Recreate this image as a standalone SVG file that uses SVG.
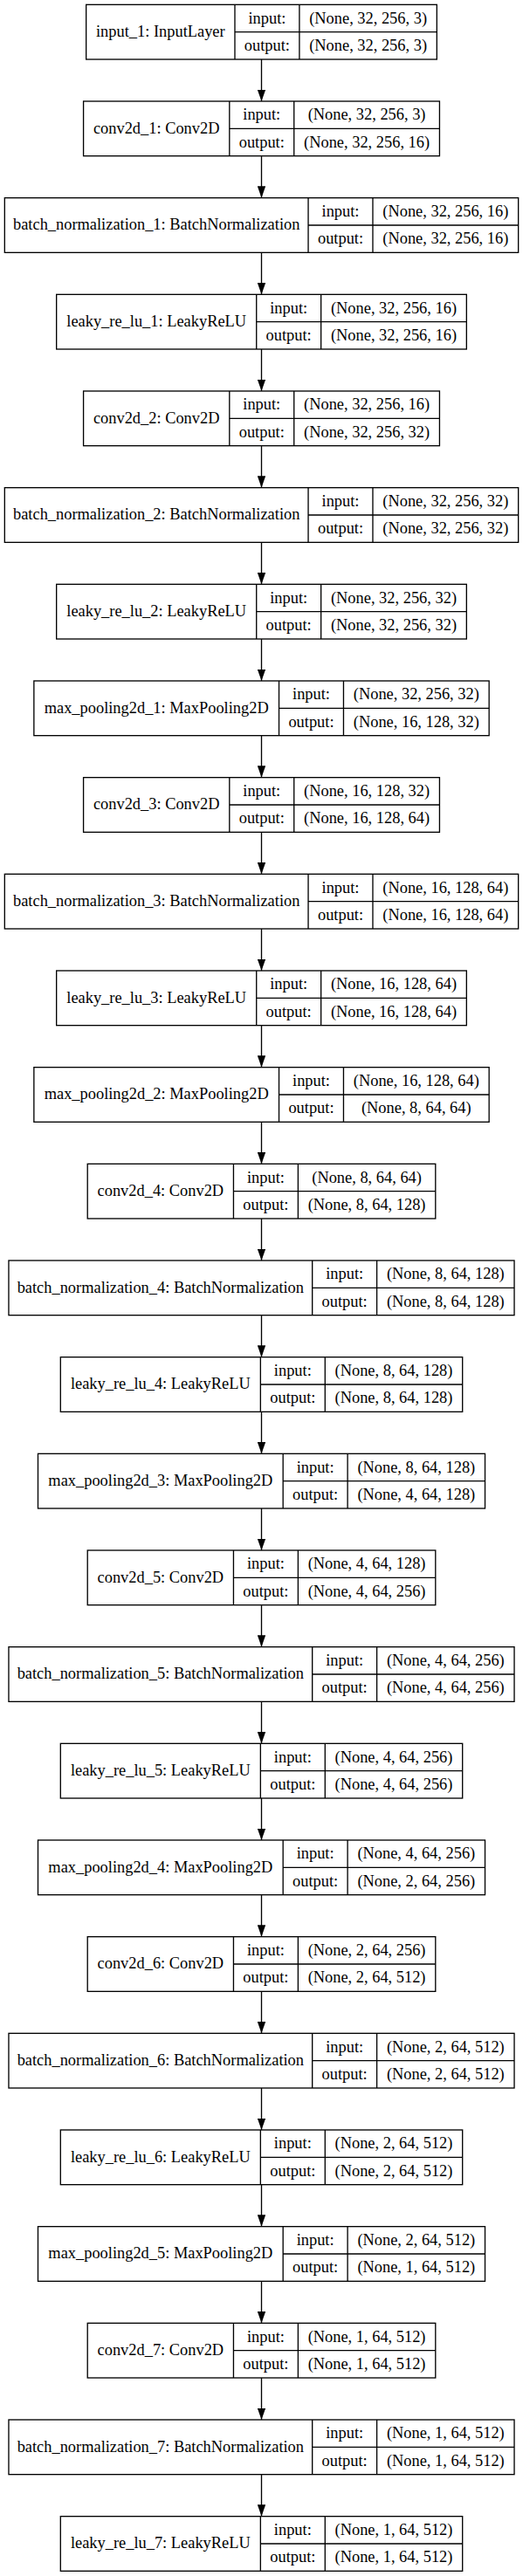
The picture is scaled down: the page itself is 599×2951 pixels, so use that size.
<svg xmlns="http://www.w3.org/2000/svg" width="599" height="2951" viewBox="0 0 599 2951">
<style>
.node rect{fill:#fff;stroke:#000;stroke-width:1.33}
.node path{fill:none;stroke:#000;stroke-width:1.33}
text{font-family:"Liberation Serif","Times New Roman",serif;font-size:18.4px;text-anchor:middle;fill:#000}
#edges line{stroke:#000;stroke-width:1.33;marker-end:url(#ah)}
</style>
<defs>
<marker id="ah" markerUnits="userSpaceOnUse" markerWidth="13.33" markerHeight="9.33" viewBox="0 0 13.33 9.33" refX="13.33" refY="4.67" orient="auto"><path d="M0,0L13.33,4.67L0,9.33Z" fill="#000"/></marker>
</defs>
<rect width="599" height="2951" fill="#fff"/>
<g id="edges">
<line x1="299.5" y1="68" x2="299.5" y2="116"/>
<line x1="299.5" y1="178.67" x2="299.5" y2="226.67"/>
<line x1="299.5" y1="289.33" x2="299.5" y2="337.33"/>
<line x1="299.5" y1="400" x2="299.5" y2="448"/>
<line x1="299.5" y1="510.67" x2="299.5" y2="558.67"/>
<line x1="299.5" y1="621.33" x2="299.5" y2="669.33"/>
<line x1="299.5" y1="732" x2="299.5" y2="780"/>
<line x1="299.5" y1="842.67" x2="299.5" y2="890.67"/>
<line x1="299.5" y1="953.33" x2="299.5" y2="1001.33"/>
<line x1="299.5" y1="1064" x2="299.5" y2="1112"/>
<line x1="299.5" y1="1174.67" x2="299.5" y2="1222.67"/>
<line x1="299.5" y1="1285.33" x2="299.5" y2="1333.33"/>
<line x1="299.5" y1="1396" x2="299.5" y2="1444"/>
<line x1="299.5" y1="1506.67" x2="299.5" y2="1554.67"/>
<line x1="299.5" y1="1617.33" x2="299.5" y2="1665.33"/>
<line x1="299.5" y1="1728" x2="299.5" y2="1776"/>
<line x1="299.5" y1="1838.67" x2="299.5" y2="1886.67"/>
<line x1="299.5" y1="1949.33" x2="299.5" y2="1997.33"/>
<line x1="299.5" y1="2060" x2="299.5" y2="2108"/>
<line x1="299.5" y1="2170.67" x2="299.5" y2="2218.67"/>
<line x1="299.5" y1="2281.33" x2="299.5" y2="2329.33"/>
<line x1="299.5" y1="2392" x2="299.5" y2="2440"/>
<line x1="299.5" y1="2502.67" x2="299.5" y2="2550.67"/>
<line x1="299.5" y1="2613.33" x2="299.5" y2="2661.33"/>
<line x1="299.5" y1="2724" x2="299.5" y2="2772"/>
<line x1="299.5" y1="2834.67" x2="299.5" y2="2882.67"/>
</g>

<g id="input_1" class="node" transform="translate(98.67,5.33)">
<rect width="401.65" height="62.67"/>
<path d="M170.31,0V62.67M244.24,0V62.67M170.31,31.33H401.65"/>
<text x="85.16" y="36.8">input_1: InputLayer</text>
<text x="207.28" y="21.2">input:</text><text x="207.28" y="52.5">output:</text>
<text x="322.95" y="21.2">(None, 32, 256, 3)</text><text x="322.95" y="52.5">(None, 32, 256, 3)</text>
</g>

<g id="conv2d_1" class="node" transform="translate(95.58,116)">
<rect width="407.85" height="62.67"/>
<path d="M167.23,0V62.67M241.16,0V62.67M167.23,31.33H407.85"/>
<text x="83.62" y="36.8">conv2d_1: Conv2D</text>
<text x="204.2" y="21.2">input:</text><text x="204.2" y="52.5">output:</text>
<text x="324.51" y="21.2">(None, 32, 256, 3)</text><text x="324.51" y="52.5">(None, 32, 256, 16)</text>
</g>

<g id="batch_normalization_1" class="node" transform="translate(5.33,226.67)">
<rect width="588.33" height="62.67"/>
<path d="M347.71,0V62.67M421.64,0V62.67M347.71,31.33H588.33"/>
<text x="173.86" y="36.8">batch_normalization_1: BatchNormalization</text>
<text x="384.68" y="21.2">input:</text><text x="384.68" y="52.5">output:</text>
<text x="505" y="21.2">(None, 32, 256, 16)</text><text x="505" y="52.5">(None, 32, 256, 16)</text>
</g>

<g id="leaky_re_lu_1" class="node" transform="translate(64.67,337.33)">
<rect width="469.67" height="62.67"/>
<path d="M229.05,0V62.67M302.98,0V62.67M229.05,31.33H469.67"/>
<text x="114.53" y="36.8">leaky_re_lu_1: LeakyReLU</text>
<text x="266.02" y="21.2">input:</text><text x="266.02" y="52.5">output:</text>
<text x="386.33" y="21.2">(None, 32, 256, 16)</text><text x="386.33" y="52.5">(None, 32, 256, 16)</text>
</g>

<g id="conv2d_2" class="node" transform="translate(95.58,448)">
<rect width="407.85" height="62.67"/>
<path d="M167.23,0V62.67M241.16,0V62.67M167.23,31.33H407.85"/>
<text x="83.62" y="36.8">conv2d_2: Conv2D</text>
<text x="204.2" y="21.2">input:</text><text x="204.2" y="52.5">output:</text>
<text x="324.51" y="21.2">(None, 32, 256, 16)</text><text x="324.51" y="52.5">(None, 32, 256, 32)</text>
</g>

<g id="batch_normalization_2" class="node" transform="translate(5.33,558.67)">
<rect width="588.33" height="62.67"/>
<path d="M347.71,0V62.67M421.64,0V62.67M347.71,31.33H588.33"/>
<text x="173.86" y="36.8">batch_normalization_2: BatchNormalization</text>
<text x="384.68" y="21.2">input:</text><text x="384.68" y="52.5">output:</text>
<text x="505" y="21.2">(None, 32, 256, 32)</text><text x="505" y="52.5">(None, 32, 256, 32)</text>
</g>

<g id="leaky_re_lu_2" class="node" transform="translate(64.67,669.33)">
<rect width="469.67" height="62.67"/>
<path d="M229.05,0V62.67M302.98,0V62.67M229.05,31.33H469.67"/>
<text x="114.53" y="36.8">leaky_re_lu_2: LeakyReLU</text>
<text x="266.02" y="21.2">input:</text><text x="266.02" y="52.5">output:</text>
<text x="386.33" y="21.2">(None, 32, 256, 32)</text><text x="386.33" y="52.5">(None, 32, 256, 32)</text>
</g>

<g id="max_pooling2d_1" class="node" transform="translate(38.86,780)">
<rect width="521.29" height="62.67"/>
<path d="M280.67,0V62.67M354.6,0V62.67M280.67,31.33H521.29"/>
<text x="140.34" y="36.8">max_pooling2d_1: MaxPooling2D</text>
<text x="317.64" y="21.2">input:</text><text x="317.64" y="52.5">output:</text>
<text x="437.95" y="21.2">(None, 32, 256, 32)</text><text x="437.95" y="52.5">(None, 16, 128, 32)</text>
</g>

<g id="conv2d_3" class="node" transform="translate(95.58,890.67)">
<rect width="407.85" height="62.67"/>
<path d="M167.23,0V62.67M241.16,0V62.67M167.23,31.33H407.85"/>
<text x="83.62" y="36.8">conv2d_3: Conv2D</text>
<text x="204.2" y="21.2">input:</text><text x="204.2" y="52.5">output:</text>
<text x="324.51" y="21.2">(None, 16, 128, 32)</text><text x="324.51" y="52.5">(None, 16, 128, 64)</text>
</g>

<g id="batch_normalization_3" class="node" transform="translate(5.33,1001.33)">
<rect width="588.33" height="62.67"/>
<path d="M347.71,0V62.67M421.64,0V62.67M347.71,31.33H588.33"/>
<text x="173.86" y="36.8">batch_normalization_3: BatchNormalization</text>
<text x="384.68" y="21.2">input:</text><text x="384.68" y="52.5">output:</text>
<text x="505" y="21.2">(None, 16, 128, 64)</text><text x="505" y="52.5">(None, 16, 128, 64)</text>
</g>

<g id="leaky_re_lu_3" class="node" transform="translate(64.67,1112)">
<rect width="469.67" height="62.67"/>
<path d="M229.05,0V62.67M302.98,0V62.67M229.05,31.33H469.67"/>
<text x="114.53" y="36.8">leaky_re_lu_3: LeakyReLU</text>
<text x="266.02" y="21.2">input:</text><text x="266.02" y="52.5">output:</text>
<text x="386.33" y="21.2">(None, 16, 128, 64)</text><text x="386.33" y="52.5">(None, 16, 128, 64)</text>
</g>

<g id="max_pooling2d_2" class="node" transform="translate(38.86,1222.67)">
<rect width="521.29" height="62.67"/>
<path d="M280.67,0V62.67M354.6,0V62.67M280.67,31.33H521.29"/>
<text x="140.34" y="36.8">max_pooling2d_2: MaxPooling2D</text>
<text x="317.64" y="21.2">input:</text><text x="317.64" y="52.5">output:</text>
<text x="437.95" y="21.2">(None, 16, 128, 64)</text><text x="437.95" y="52.5">(None, 8, 64, 64)</text>
</g>

<g id="conv2d_4" class="node" transform="translate(100.22,1333.33)">
<rect width="398.57" height="62.67"/>
<path d="M167.23,0V62.67M241.16,0V62.67M167.23,31.33H398.57"/>
<text x="83.62" y="36.8">conv2d_4: Conv2D</text>
<text x="204.2" y="21.2">input:</text><text x="204.2" y="52.5">output:</text>
<text x="319.87" y="21.2">(None, 8, 64, 64)</text><text x="319.87" y="52.5">(None, 8, 64, 128)</text>
</g>

<g id="batch_normalization_4" class="node" transform="translate(9.97,1444)">
<rect width="579.05" height="62.67"/>
<path d="M347.71,0V62.67M421.64,0V62.67M347.71,31.33H579.05"/>
<text x="173.86" y="36.8">batch_normalization_4: BatchNormalization</text>
<text x="384.68" y="21.2">input:</text><text x="384.68" y="52.5">output:</text>
<text x="500.35" y="21.2">(None, 8, 64, 128)</text><text x="500.35" y="52.5">(None, 8, 64, 128)</text>
</g>

<g id="leaky_re_lu_4" class="node" transform="translate(69.31,1554.67)">
<rect width="460.39" height="62.67"/>
<path d="M229.05,0V62.67M302.98,0V62.67M229.05,31.33H460.39"/>
<text x="114.53" y="36.8">leaky_re_lu_4: LeakyReLU</text>
<text x="266.02" y="21.2">input:</text><text x="266.02" y="52.5">output:</text>
<text x="381.69" y="21.2">(None, 8, 64, 128)</text><text x="381.69" y="52.5">(None, 8, 64, 128)</text>
</g>

<g id="max_pooling2d_3" class="node" transform="translate(43.5,1665.33)">
<rect width="512.01" height="62.67"/>
<path d="M280.67,0V62.67M354.6,0V62.67M280.67,31.33H512.01"/>
<text x="140.34" y="36.8">max_pooling2d_3: MaxPooling2D</text>
<text x="317.64" y="21.2">input:</text><text x="317.64" y="52.5">output:</text>
<text x="433.31" y="21.2">(None, 8, 64, 128)</text><text x="433.31" y="52.5">(None, 4, 64, 128)</text>
</g>

<g id="conv2d_5" class="node" transform="translate(100.22,1776)">
<rect width="398.57" height="62.67"/>
<path d="M167.23,0V62.67M241.16,0V62.67M167.23,31.33H398.57"/>
<text x="83.62" y="36.8">conv2d_5: Conv2D</text>
<text x="204.2" y="21.2">input:</text><text x="204.2" y="52.5">output:</text>
<text x="319.87" y="21.2">(None, 4, 64, 128)</text><text x="319.87" y="52.5">(None, 4, 64, 256)</text>
</g>

<g id="batch_normalization_5" class="node" transform="translate(9.97,1886.67)">
<rect width="579.05" height="62.67"/>
<path d="M347.71,0V62.67M421.64,0V62.67M347.71,31.33H579.05"/>
<text x="173.86" y="36.8">batch_normalization_5: BatchNormalization</text>
<text x="384.68" y="21.2">input:</text><text x="384.68" y="52.5">output:</text>
<text x="500.35" y="21.2">(None, 4, 64, 256)</text><text x="500.35" y="52.5">(None, 4, 64, 256)</text>
</g>

<g id="leaky_re_lu_5" class="node" transform="translate(69.31,1997.33)">
<rect width="460.39" height="62.67"/>
<path d="M229.05,0V62.67M302.98,0V62.67M229.05,31.33H460.39"/>
<text x="114.53" y="36.8">leaky_re_lu_5: LeakyReLU</text>
<text x="266.02" y="21.2">input:</text><text x="266.02" y="52.5">output:</text>
<text x="381.69" y="21.2">(None, 4, 64, 256)</text><text x="381.69" y="52.5">(None, 4, 64, 256)</text>
</g>

<g id="max_pooling2d_4" class="node" transform="translate(43.5,2108)">
<rect width="512.01" height="62.67"/>
<path d="M280.67,0V62.67M354.6,0V62.67M280.67,31.33H512.01"/>
<text x="140.34" y="36.8">max_pooling2d_4: MaxPooling2D</text>
<text x="317.64" y="21.2">input:</text><text x="317.64" y="52.5">output:</text>
<text x="433.31" y="21.2">(None, 4, 64, 256)</text><text x="433.31" y="52.5">(None, 2, 64, 256)</text>
</g>

<g id="conv2d_6" class="node" transform="translate(100.22,2218.67)">
<rect width="398.57" height="62.67"/>
<path d="M167.23,0V62.67M241.16,0V62.67M167.23,31.33H398.57"/>
<text x="83.62" y="36.8">conv2d_6: Conv2D</text>
<text x="204.2" y="21.2">input:</text><text x="204.2" y="52.5">output:</text>
<text x="319.87" y="21.2">(None, 2, 64, 256)</text><text x="319.87" y="52.5">(None, 2, 64, 512)</text>
</g>

<g id="batch_normalization_6" class="node" transform="translate(9.97,2329.33)">
<rect width="579.05" height="62.67"/>
<path d="M347.71,0V62.67M421.64,0V62.67M347.71,31.33H579.05"/>
<text x="173.86" y="36.8">batch_normalization_6: BatchNormalization</text>
<text x="384.68" y="21.2">input:</text><text x="384.68" y="52.5">output:</text>
<text x="500.35" y="21.2">(None, 2, 64, 512)</text><text x="500.35" y="52.5">(None, 2, 64, 512)</text>
</g>

<g id="leaky_re_lu_6" class="node" transform="translate(69.31,2440)">
<rect width="460.39" height="62.67"/>
<path d="M229.05,0V62.67M302.98,0V62.67M229.05,31.33H460.39"/>
<text x="114.53" y="36.8">leaky_re_lu_6: LeakyReLU</text>
<text x="266.02" y="21.2">input:</text><text x="266.02" y="52.5">output:</text>
<text x="381.69" y="21.2">(None, 2, 64, 512)</text><text x="381.69" y="52.5">(None, 2, 64, 512)</text>
</g>

<g id="max_pooling2d_5" class="node" transform="translate(43.5,2550.67)">
<rect width="512.01" height="62.67"/>
<path d="M280.67,0V62.67M354.6,0V62.67M280.67,31.33H512.01"/>
<text x="140.34" y="36.8">max_pooling2d_5: MaxPooling2D</text>
<text x="317.64" y="21.2">input:</text><text x="317.64" y="52.5">output:</text>
<text x="433.31" y="21.2">(None, 2, 64, 512)</text><text x="433.31" y="52.5">(None, 1, 64, 512)</text>
</g>

<g id="conv2d_7" class="node" transform="translate(100.22,2661.33)">
<rect width="398.57" height="62.67"/>
<path d="M167.23,0V62.67M241.16,0V62.67M167.23,31.33H398.57"/>
<text x="83.62" y="36.8">conv2d_7: Conv2D</text>
<text x="204.2" y="21.2">input:</text><text x="204.2" y="52.5">output:</text>
<text x="319.87" y="21.2">(None, 1, 64, 512)</text><text x="319.87" y="52.5">(None, 1, 64, 512)</text>
</g>

<g id="batch_normalization_7" class="node" transform="translate(9.97,2772)">
<rect width="579.05" height="62.67"/>
<path d="M347.71,0V62.67M421.64,0V62.67M347.71,31.33H579.05"/>
<text x="173.86" y="36.8">batch_normalization_7: BatchNormalization</text>
<text x="384.68" y="21.2">input:</text><text x="384.68" y="52.5">output:</text>
<text x="500.35" y="21.2">(None, 1, 64, 512)</text><text x="500.35" y="52.5">(None, 1, 64, 512)</text>
</g>

<g id="leaky_re_lu_7" class="node" transform="translate(69.31,2882.67)">
<rect width="460.39" height="62.67"/>
<path d="M229.05,0V62.67M302.98,0V62.67M229.05,31.33H460.39"/>
<text x="114.53" y="36.8">leaky_re_lu_7: LeakyReLU</text>
<text x="266.02" y="21.2">input:</text><text x="266.02" y="52.5">output:</text>
<text x="381.69" y="21.2">(None, 1, 64, 512)</text><text x="381.69" y="52.5">(None, 1, 64, 512)</text>
</g>
</svg>
